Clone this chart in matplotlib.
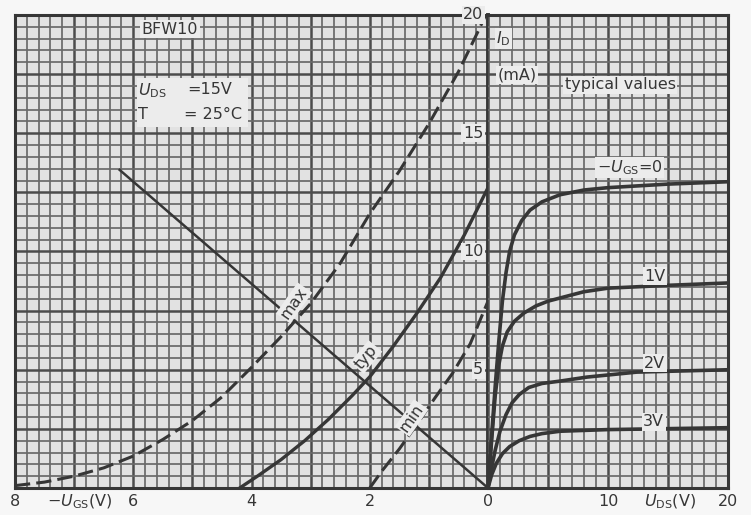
import numpy as np
import matplotlib
matplotlib.use("Agg")
import matplotlib.pyplot as plt
from matplotlib.patches import Rectangle

# ---------------- data ----------------
# transfer characteristics: -U_GS (V) vs I_D (mA)
max_ugs = [8.0, 7.5, 7.0, 6.5, 6.0, 5.5, 5.0, 4.5, 4.0, 3.5, 3.0, 2.5, 2.0, 1.5, 1.0, 0.5, 0.15, 0.05]
max_id  = [0.1, 0.25, 0.5, 0.85, 1.35, 2.05, 2.85, 3.85, 5.1, 6.4, 7.8, 9.5, 11.6, 13.4, 15.4, 17.6, 19.4, 19.95]
typ_ugs = [4.2, 3.9, 3.5, 3.1, 2.7, 2.3, 2.0, 1.6, 1.2, 0.8, 0.4, 0.0]
typ_id  = [0.0, 0.5, 1.2, 2.0, 2.9, 3.9, 4.7, 6.0, 7.4, 8.9, 10.7, 12.7]
min_ugs = [2.0, 1.8, 1.5, 1.2, 0.9, 0.6, 0.3, 0.0]
min_id  = [0.0, 0.7, 1.65, 2.7, 3.8, 4.85, 6.1, 7.9]
# straight line through the operating points
line_ugs = [0.0, 6.23]
line_id  = [0.0, 13.45]

# output characteristics: U_DS (V) vs I_D (mA), parameter -U_GS
uds_0 = [0, 0.3, 0.6, 0.9, 1.2, 1.5, 1.8, 2.2, 2.8, 3.5, 4.5, 6, 8, 10, 15, 20]
id_0  = [0, 2.2, 4.3, 6.2, 7.9, 9.1, 10.0, 10.7, 11.3, 11.75, 12.1, 12.4, 12.6, 12.7, 12.85, 12.95]
uds_1 = [0, 0.3, 0.6, 0.9, 1.2, 1.6, 2.2, 3, 4, 5, 6.5, 8, 10, 15, 20]
id_1  = [0, 2.0, 3.9, 5.2, 6.0, 6.6, 7.05, 7.4, 7.7, 7.9, 8.1, 8.3, 8.45, 8.57, 8.67]
uds_2 = [0, 0.3, 0.6, 1.0, 1.5, 2.0, 2.6, 3.4, 4.5, 6, 8.25, 12.4, 20]
id_2  = [0, 0.85, 1.6, 2.4, 3.1, 3.6, 3.95, 4.25, 4.42, 4.52, 4.69, 4.9, 5.0]
uds_3 = [0, 0.3, 0.7, 1.2, 1.8, 2.6, 3.5, 4.5, 6, 10, 20]
id_3  = [0, 0.55, 1.05, 1.45, 1.75, 2.0, 2.18, 2.3, 2.4, 2.47, 2.55]

y_ticks = [5, 10, 15, 20]
ugs_ticks = [8, 6, 4, 2, 0]
uds_ticks = [10, 20]

# ---------------- style ----------------
BG = '#e2e2e2'
FIG = '#f7f7f7'
GMIN = '#6a6a6a'
GMAJ = '#4c4c4c'
INK = '#363636'
LBL = '#ececec'
FS = 11.5

fig = plt.figure(figsize=(7.51, 5.15), dpi=100, facecolor=FIG)
bottom = (515 - 488) / 515
height = (488 - 15) / 515
ax1 = fig.add_axes([15 / 751, bottom, 473 / 751, height])
ax2 = fig.add_axes([488 / 751, bottom, 240 / 751, height])

for ax in (ax1, ax2):
    ax.set_facecolor(BG)
    ax.set_ylim(0, 20)
    ax.set_xticks([])
    ax.set_yticks([])
    for s in ax.spines.values():
        s.set_linewidth(2.2)
        s.set_color(INK)
ax1.set_xlim(8, 0)
ax2.set_xlim(0, 20)
ax2.spines['left'].set_visible(False)
ax1.spines['right'].set_linewidth(2.8)

# grid
for i in range(41):
    v = i * 0.2
    maj = i % 5 == 0
    ax1.axvline(v, color=GMAJ if maj else GMIN, lw=1.8 if maj else 1.25, zorder=1)
for i in range(21):
    maj = i % 5 == 0
    ax2.axvline(i, color=GMAJ if maj else GMIN, lw=1.8 if maj else 1.25, zorder=1)
for ax in (ax1, ax2):
    for i in range(41):
        v = i * 0.5
        maj = i % 5 == 0
        ax.axhline(v, color=GMAJ if maj else GMIN, lw=1.8 if maj else 1.25, zorder=1)

# curves - transfer
dash = (0, (5, 2))
ax1.plot(max_ugs, max_id, color=INK, lw=2.2, ls=dash, zorder=3, clip_on=False)
ax1.plot(typ_ugs, typ_id, color=INK, lw=2.4, zorder=3)
ax1.plot(min_ugs, min_id, color=INK, lw=2.2, ls=dash, zorder=3)
ax1.plot(line_ugs, line_id, color=INK, lw=1.8, zorder=3)

# curves - output
for u, i in ((uds_0, id_0), (uds_1, id_1), (uds_2, id_2), (uds_3, id_3)):
    ax2.plot(u, i, color=INK, lw=2.6, zorder=3, solid_capstyle='round', solid_joinstyle='round')

box = dict(facecolor=LBL, edgecolor='none', pad=1.0)

# curve labels
ax1.text(3.28, 7.82, 'max', rotation=55, ha='center', va='center', fontsize=FS, color=INK, bbox=box, zorder=4)
ax1.text(2.06, 5.54, 'typ', rotation=50, ha='center', va='center', fontsize=FS, color=INK, bbox=box, zorder=4)
ax1.text(1.29, 2.96, 'min', rotation=55, ha='center', va='center', fontsize=FS, color=INK, bbox=box, zorder=4)

# header texts
ax1.text(5.38, 19.4, 'BFW10', ha='center', va='center', fontsize=FS, color=INK, bbox=box, zorder=4)
ax1.add_patch(Rectangle((4.06, 15.26), 1.88, 2.08, facecolor=LBL, edgecolor='none', zorder=3.5))
ax1.text(5.92, 16.79, r'$U_{\rm DS}$', ha='left', va='center', fontsize=FS, color=INK, zorder=4)
ax1.text(5.08, 16.85, '=15V', ha='left', va='center', fontsize=FS, color=INK, zorder=4)
ax1.text(5.92, 15.8, 'T', ha='left', va='center', fontsize=FS, color=INK, zorder=4)
ax1.text(5.15, 15.8, '= 25°C', ha='left', va='center', fontsize=FS, color=INK, zorder=4)

# y tick labels on centre axis
for y in y_ticks:
    ax1.text(0.08, y, str(y), ha='right', va='center', fontsize=FS, color=INK, bbox=box, zorder=4, clip_on=False)

# x tick labels
for v in ugs_ticks:
    ax1.text(v, -0.55, str(v), ha='center', va='center', fontsize=FS, color=INK, clip_on=False)
ax1.text(6.9, -0.6, r'$-U_{\rm GS}$(V)', ha='center', va='center', fontsize=FS, color=INK, clip_on=False)
for v in uds_ticks:
    ax2.text(v, -0.55, str(v), ha='center', va='center', fontsize=FS, color=INK, clip_on=False)
ax2.text(15.2, -0.6, r'$U_{\rm DS}$(V)', ha='center', va='center', fontsize=FS, color=INK, clip_on=False)

# right-side texts
ax2.text(1.3, 19.0, r'$I_{\rm D}$', ha='center', va='center', fontsize=FS, color=INK, bbox=box, zorder=4)
ax2.text(2.4, 17.45, '(mA)', ha='center', va='center', fontsize=FS, color=INK, bbox=box, zorder=4)
ax2.text(11.0, 17.05, 'typical values', ha='center', va='center', fontsize=FS, color=INK, bbox=box, zorder=4)
ax2.text(11.8, 13.55, r'$-U_{\rm GS}$=0', ha='center', va='center', fontsize=FS, color=INK, bbox=box, zorder=4)
ax2.text(13.9, 8.96, '1V', ha='center', va='center', fontsize=FS, color=INK, bbox=box, zorder=4)
ax2.text(13.9, 5.28, '2V', ha='center', va='center', fontsize=FS, color=INK, bbox=box, zorder=4)
ax2.text(13.8, 2.8, '3V', ha='center', va='center', fontsize=FS, color=INK, bbox=box, zorder=4)

fig.savefig('out.png', dpi=100, facecolor=FIG)
